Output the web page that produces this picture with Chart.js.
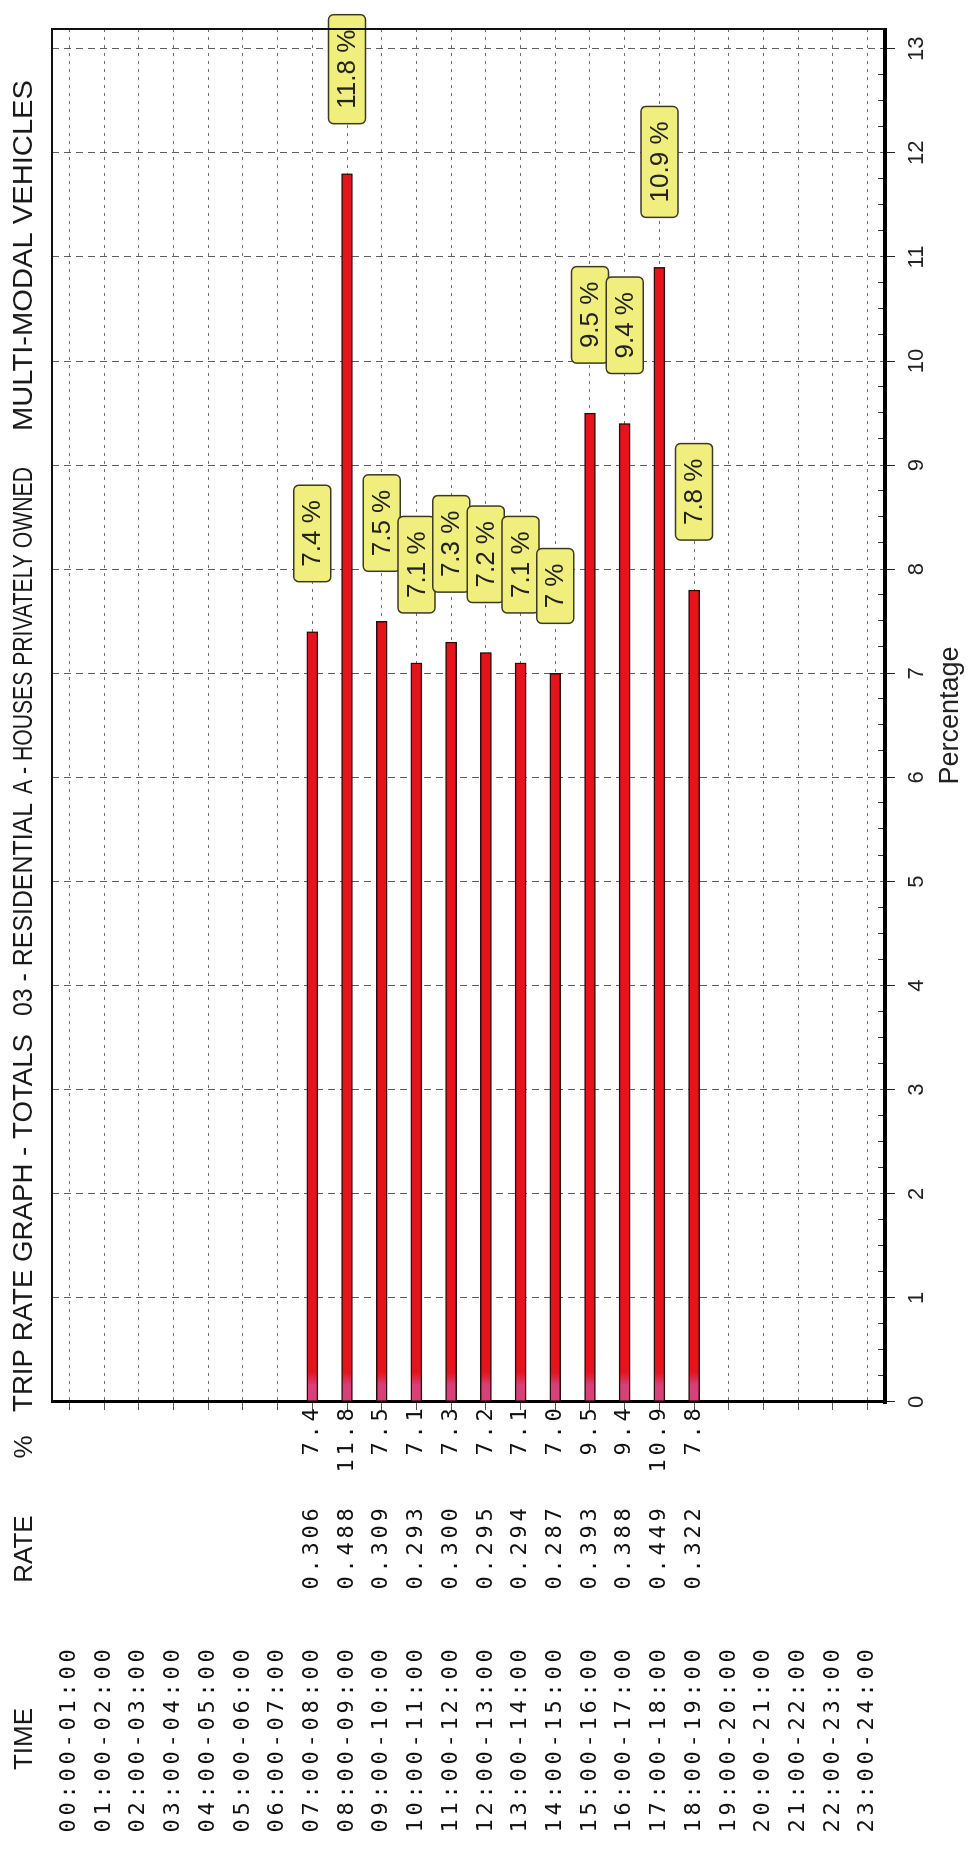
<!DOCTYPE html>
<html>
<head>
<meta charset="utf-8">
<title>Trip rate graph</title>
<script src="https://cdn.jsdelivr.net/npm/chart.js@4.4.1/dist/chart.umd.min.js"></script>
<style>
  html, body { margin: 0; padding: 0; background: #fff; overflow: hidden; }
  #page { position: relative; width: 969px; height: 1854px; overflow: hidden; background: #fff; }
  /* chart is laid out landscape, then turned to read bottom-to-top */
  #wrap { position: absolute; left: 0; top: 0; width: 1854px; height: 969px;
          transform-origin: 0 0; transform: translate(0, 1854px) rotate(-90deg); }
</style>
</head>
<body>
<div id="page"><div id="wrap"><canvas id="tripChart"></canvas></div></div>
<script>
const timeLabels = [
  "00:00-01:00", "01:00-02:00", "02:00-03:00", "03:00-04:00", "04:00-05:00", "05:00-06:00",
  "06:00-07:00", "07:00-08:00", "08:00-09:00", "09:00-10:00", "10:00-11:00", "11:00-12:00",
  "12:00-13:00", "13:00-14:00", "14:00-15:00", "15:00-16:00", "16:00-17:00", "17:00-18:00",
  "18:00-19:00", "19:00-20:00", "20:00-21:00", "21:00-22:00", "22:00-23:00", "23:00-24:00"
];
const rateValues = [
  null, null, null, null, null, null, null,
  0.306, 0.488, 0.309, 0.293, 0.300, 0.295, 0.294, 0.287, 0.393, 0.388, 0.449, 0.322,
  null, null, null, null, null
];
const percentValues = [
  null, null, null, null, null, null, null,
  7.4, 11.8, 7.5, 7.1, 7.3, 7.2, 7.1, 7.0, 9.5, 9.4, 10.9, 7.8,
  null, null, null, null, null
];
const axisTicks = [0, 1, 2, 3, 4, 5, 6, 7, 8, 9, 10, 11, 12, 13];
const titleParts = ["TRIP RATE GRAPH - TOTALS", "03 - RESIDENTIAL", "A - HOUSES PRIVATELY OWNED", "MULTI-MODAL VEHICLES"];
const columnHeads = ["TIME", "RATE", "%"];

const SANS = '"Liberation Sans", Arial, sans-serif';
const MONO = '"DejaVu Sans Mono", "Liberation Mono", monospace';

// thin frame on the open sides + quarter minor ticks
const framePlugin = {
  id: "frame",
  afterDraw(chart) {
    const { ctx, chartArea: a } = chart;
    const xs = chart.scales.x;
    ctx.save();
    ctx.strokeStyle = "#111";
    ctx.lineWidth = 2;
    ctx.beginPath();
    ctx.moveTo(a.left, a.top);
    ctx.lineTo(a.right, a.top);
    ctx.lineTo(a.right, a.bottom);
    ctx.stroke();
    ctx.lineWidth = 1;
    ctx.strokeStyle = "#333";
    for (let q = 1; q < 13 * 4; q++) {
      if (q % 4 === 0) continue;
      const u = Math.round(xs.getPixelForValue(q / 4)) + 0.5;
      ctx.beginPath();
      ctx.moveTo(u, a.bottom - 2);
      ctx.lineTo(u, a.bottom - 7);
      ctx.stroke();
    }
    ctx.restore();
  }
};

// yellow value boxes beyond the bar ends
const boxPlugin = {
  id: "valueBoxes",
  afterDatasetsDraw(chart) {
    const { ctx } = chart;
    const meta = chart.getDatasetMeta(0);
    ctx.save();
    ctx.font = "26px " + SANS;
    ctx.textAlign = "center";
    ctx.textBaseline = "middle";
    meta.data.forEach((bar, i) => {
      const v = percentValues[i];
      if (v == null) return;
      const text = v + " %";
      const w = ctx.measureText(text).width + 30;
      const h = 37;
      let left = bar.x + 50;
      if (left + w > chart.width - 8) left = chart.width - 8 - w;
      ctx.beginPath();
      ctx.roundRect(left, bar.y - h / 2, w, h, 5);
      ctx.fillStyle = "#f0ee7c";
      ctx.fill();
      ctx.lineWidth = 1.5;
      ctx.strokeStyle = "#3b3a22";
      ctx.stroke();
      ctx.fillStyle = "#222";
      ctx.fillText(text, left + w / 2, bar.y + 1);
    });
    ctx.restore();
  }
};

// title line, column heads and the TIME / RATE / % table
const tablePlugin = {
  id: "tableText",
  afterDraw(chart) {
    const { ctx } = chart;
    const ys = chart.scales.y;
    const pitch = 17;
    ctx.save();
    ctx.fillStyle = "#111";
    ctx.textBaseline = "middle";
    ctx.textAlign = "center";
    ctx.font = "22px " + MONO;
    const putChars = (str, firstCenter, v) => {
      for (let j = 0; j < str.length; j++) ctx.fillText(str[j], firstCenter + j * pitch, v);
    };
    timeLabels.forEach((t, i) => {
      const v = ys.getPixelForValue(i);
      putChars(t, 28, v);
      if (rateValues[i] != null) putChars(rateValues[i].toFixed(3), 271, v);
      if (percentValues[i] != null) {
        const s = percentValues[i].toFixed(1);
        putChars(s, 439 - (s.length - 1) * pitch, v);
      }
    });

    ctx.fillStyle = "#1a1a1a";
    ctx.font = "26px " + SANS;
    const headU = [115, 305, 407];
    columnHeads.forEach((h, k) => ctx.fillText(h, headU[k], 25));

    // each title piece squeezed into the span it takes in the original
    ctx.textAlign = "left";
    ctx.font = "27px " + SANS;
    const spans = [[442, 820], [838, 1051], [1060, 1387], [1423, 1774]];
    titleParts.forEach((p, k) => {
      const [u0, u1] = spans[k];
      const sx = (u1 - u0) / ctx.measureText(p).width;
      ctx.save();
      ctx.translate(u0, 25);
      ctx.scale(sx, 1);
      ctx.fillText(p, 0, 0);
      ctx.restore();
    });
    ctx.restore();
  }
};

function barFill(c) {
  const chart = c.chart;
  if (!chart.chartArea) return "#e6121c";
  const x0 = chart.scales.x.getPixelForValue(0);
  const g = chart.ctx.createLinearGradient(x0, 0, x0 + 30, 0);
  g.addColorStop(0, "#d8407a");
  g.addColorStop(0.55, "#d8407a");
  g.addColorStop(1, "#e6121c");
  return g;
}

new Chart(document.getElementById("tripChart"), {
  type: "bar",
  data: {
    labels: timeLabels,
    datasets: [{
      data: percentValues,
      backgroundColor: barFill,
      borderColor: "#2e0c0c",
      borderWidth: 1.5,
      borderSkipped: false,
      barThickness: 11
    }]
  },
  options: {
    indexAxis: "y",
    responsive: true,
    maintainAspectRatio: false,
    animation: false,
    layout: { padding: { left: 0, right: 29, top: 52, bottom: 0 } },
    plugins: { legend: { display: false }, tooltip: { enabled: false } },
    scales: {
      x: {
        type: "linear",
        position: "bottom",
        min: 0,
        max: 13.19,
        afterBuildTicks: (s) => { s.ticks = axisTicks.map(v => ({ value: v })); },
        afterFit: (s) => { s.height = 84; },
        grid: { color: "#5e5e5e", lineWidth: 1, drawTicks: true, tickLength: 10, tickColor: "#222", tickBorderDash: [] },
        border: { display: true, color: "#000", width: 4, dash: [7, 5] },
        ticks: { color: "#222", font: { family: "Liberation Sans", size: 22 }, padding: 9, maxRotation: 0, autoSkip: false },
        title: { display: true, text: "Percentage", color: "#222", font: { family: "Liberation Sans", size: 27 }, padding: { top: 0, bottom: 2 } }
      },
      y: {
        type: "category",
        position: "left",
        offset: true,
        afterFit: (s) => { s.width = 452; },
        grid: { offset: false, color: "#6f6f6f", lineWidth: 1, drawTicks: true, tickLength: 8, tickColor: "#555", tickBorderDash: [] },
        border: { display: true, color: "#000", width: 3, dash: [3, 5] },
        ticks: { display: false }
      }
    }
  },
  plugins: [framePlugin, boxPlugin, tablePlugin]
});
</script>
</body>
</html>
